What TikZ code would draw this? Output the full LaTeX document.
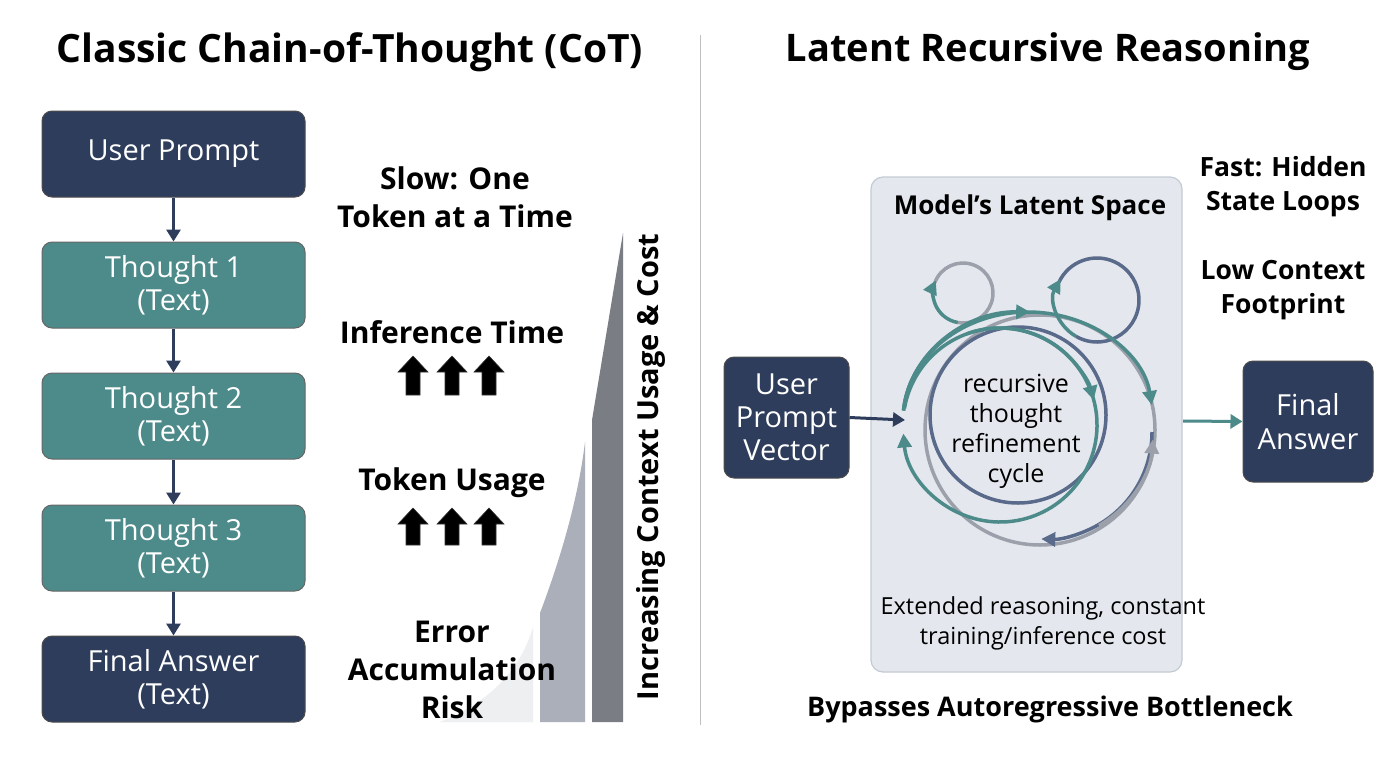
\documentclass[tikz,border=0pt]{standalone}
\usepackage{fontspec}
\setmainfont{Open Sans}
\usetikzlibrary{arrows.meta}
\definecolor{navy}{HTML}{2E3D5C}
\definecolor{teal2}{HTML}{4D8A8A}
\definecolor{gline}{HTML}{9CA0AA}
\definecolor{nline}{HTML}{5A6A8A}
\definecolor{spacebg}{HTML}{E4E8EE}
\definecolor{spaceln}{HTML}{C4CAD4}
\definecolor{lightg}{HTML}{EEEFF1}
\definecolor{midg}{HTML}{AAAFB9}
\definecolor{darkg}{HTML}{7B7D85}
\newcommand{\fs}[2]{\fontsize{#1}{#2}\selectfont}
\tikzset{
  navybox/.style={draw=black!70,line width=1pt,fill=navy,rounded corners=10pt,text=white,align=center,font=\fs{29}{33},inner sep=0pt},
  tealbox/.style={draw=black!60,line width=1pt,fill=teal2,rounded corners=10pt,text=white,align=center,font=\fs{29}{33},inner sep=0pt},
  flow/.style={navy,line width=3pt,-{Triangle[length=12pt,width=14pt]}},
  bold/.style={font=\bfseries\fs{30}{38},align=center},
  loop/.style={line width=3.5pt},
  tip/.style={-{Triangle[length=14pt,width=14pt]}},
  uparrow/.style={fill=black,draw=black!80,line width=0.6pt}
}
\begin{document}
\begin{tikzpicture}[x=1pt,y=-1pt]
\useasboundingbox[fill=white] (0,0) rectangle (1400,764);
% titles
\node[font=\bfseries\fs{39}{44}] (t1) at (350,52) {Classic Chain-of-Thought (CoT)};
\node[font=\bfseries\fs{38}{44}] (t2) at (1048,52) {Latent Recursive Reasoning};
\draw[black!25,line width=1pt] (700,35) -- (700,725);
% left boxes
\node[navybox,minimum width=263pt,minimum height=86pt] (up) at (173.5,154) {\raisebox{-4pt}{User Prompt}};
\node[tealbox,minimum width=263pt,minimum height=86pt] (th1) at (173.5,285) {Thought 1\\(Text)};
\node[tealbox,minimum width=263pt,minimum height=86pt] (th2) at (173.5,416) {Thought 2\\(Text)};
\node[tealbox,minimum width=263pt,minimum height=86pt] (th3) at (173.5,548) {Thought 3\\(Text)};
\node[navybox,minimum width=263pt,minimum height=86pt] (fa) at (173.5,679) {Final Answer\\(Text)};
\draw[flow] (up) -- (th1);
\draw[flow] (th1) -- (th2);
\draw[flow] (th2) -- (th3);
\draw[flow] (th3) -- (fa);
% gray wedges
\fill[lightg] (440,722) .. controls (495,700) and (522,665) .. (533,627) -- (533,722) -- cycle;
\fill[midg] (540,722) -- (540,613) .. controls (560,560) and (578,500) .. (585,442) -- (585,722) -- cycle;
\fill[darkg] (592,722) -- (592,420) -- (623,233) -- (623,722) -- cycle;
% left texts
\node[bold] (slow) at (455,197) {Slow: One\\Token at a Time};
\node[bold] (inf) at (452,332) {Inference Time};
\node[bold] (tok) at (452,483) {Token Usage};
\node[bold] (err) at (452,670) {Error\\Accumulation\\Risk};
\foreach \cx in {413,452,489} {
  \fill[uparrow] (\cx,356) -- (\cx+15,372) -- (\cx+7,372) -- (\cx+7,395) -- (\cx-7,395) -- (\cx-7,372) -- (\cx-15,372) -- cycle;
  \fill[uparrow] (\cx,508) -- (\cx+15,524) -- (\cx+7,524) -- (\cx+7,545) -- (\cx-7,545) -- (\cx-7,524) -- (\cx-15,524) -- cycle;
}
\node[font=\bfseries\fs{29}{34},rotate=90] (vert) at (651,467) {Increasing Context Usage \& Cost};
% right side
\node[draw=spaceln,line width=1.2pt,fill=spacebg,rounded corners=12pt,minimum width=311pt,minimum height=495pt,inner sep=0pt] (space) at (1026.5,424.5) {};
\node[font=\bfseries\fs{26}{30}] (mls) at (1030,208) {Model's Latent Space};
\node[font=\bfseries\fs{26.5}{34},align=center] (fast) at (1283,187) {Fast: Hidden\\State Loops};
\node[font=\bfseries\fs{26.5}{34},align=center] (low) at (1283,290) {Low Context\\Footprint};
\node[navybox,minimum width=125pt,minimum height=121pt] (upv) at (786.5,417.5) {User\\Prompt\\Vector};
\node[navybox,minimum width=130pt,minimum height=121pt,font=\fs{29}{34}] (fin) at (1308,421.5) {Final\\Answer};
\coordinate (cin) at (905,420);
\coordinate (cout) at (1183,421);
\draw[flow] (upv.east) -- (cin);
\draw[teal2,line width=3pt,-{Triangle[length=12pt,width=14pt]}] (cout) -- (fin.west);
% loops
\draw[gline,loop] (1040,430) circle[radius=115];
\draw[nline,loop] (1018,415) circle[radius=88];
\draw[gline,loop] (963,293) ++(200:30) arc[start angle=200,end angle=460,radius=30];
\draw[teal2,loop,tip] (963,293) ++(100:30) arc[start angle=100,end angle=205,radius=30];
\draw[nline,loop] (1097,300) ++(205:42) arc[start angle=205,end angle=480,radius=42];
\draw[teal2,loop,tip] (1097,300) ++(120:42) arc[start angle=120,end angle=210,radius=42];
\draw[teal2,loop,tip] (1000,425) ++(190:97) arc[start angle=190,end angle=535,radius=97];
\draw[teal2,loop,tip] (1000,425) ++(250:97) arc[start angle=250,end angle=345,radius=97];
\draw[teal2,loop,tip] (1028,420) ++(185:125 and 108) arc[start angle=185,end angle=352,x radius=125,y radius=108];
\draw[teal2,loop,tip] (1028,420) ++(185:125 and 108) arc[start angle=185,end angle=271,x radius=125,y radius=108];
\draw[nline,loop,tip] (1045,432) ++(0:107) arc[start angle=0,end angle=92,radius=107];
\draw[gline,loop,tip] (1045,432) ++(60:108) arc[start angle=60,end angle=4,radius=108];
\node[font=\fs{25}{30},align=center] (rec) at (1016,431) {recursive\\thought\\refinement\\cycle};
\node[font=\fs{23.5}{30},align=center] (ext) at (1043,623) {Extended reasoning, constant\\training/inference cost};
\node[font=\bfseries\fs{27}{30}] (byp) at (1050,709) {Bypasses Autoregressive Bottleneck};
\end{tikzpicture}
\end{document}
